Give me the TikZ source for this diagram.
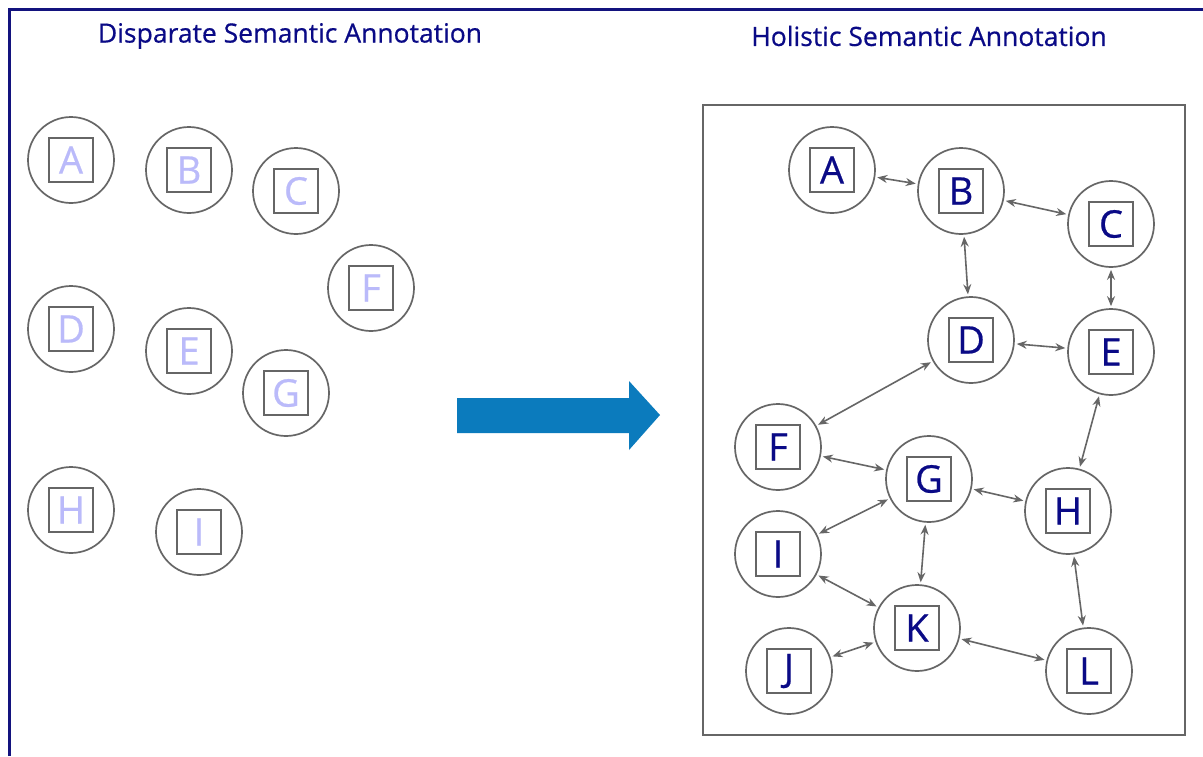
\documentclass[tikz,border=0pt]{standalone}
\usepackage{fontspec}
\setmainfont{Open Sans}
\newfontfamily\mediumface{Open Sans}[FakeBold=0.6]
\usetikzlibrary{arrows.meta}
\definecolor{navyText}{HTML}{0A0A86}
\definecolor{paleText}{HTML}{BABAFA}
\definecolor{frameNavy}{HTML}{13137E}
\definecolor{lineGray}{HTML}{666666}
\definecolor{flowBlue}{HTML}{0B7BBD}

\begin{document}
\begin{tikzpicture}[x=1pt, y=-1pt,
    conc/.style={circle, draw=lineGray, line width=1.7pt, minimum size=86pt, inner sep=0pt,
        font=\mediumface\fontsize{38}{40}\selectfont,
        path picture={\draw[lineGray, line width=1.6pt]
            ([xshift=-22pt, yshift=-22pt]path picture bounding box.center) rectangle
            ([xshift=22pt, yshift=22pt]path picture bounding box.center);}},
    loose/.style={conc, text=paleText},
    linked/.style={conc, text=navyText},
    rel/.style={lineGray, line width=1.6pt, {Stealth[length=10pt,width=8pt]}-{Stealth[length=10pt,width=8pt]},
        shorten <=2pt, shorten >=2pt},
    heading/.style={text=navyText, font=\mediumface\fontsize{26.5}{28}\selectfont}]
                \useasboundingbox (0, 0) rectangle (1203, 756);
                \fill[white] (0, 0) rectangle (1203, 756);
                \draw[frameNavy, line width=3pt] (9, 756) -- (9, 9) -- (1203, 9);

                \node (tLeft) at (290, 36)[heading] {Disparate Semantic Annotation};
                \node (tRight) at (929, 36)[heading] {Holistic Semantic Annotation};

                % disparate side
                \node (lA) at (71, 160)[loose] {A};
                \node (lB) at (189, 170)[loose] {B};
                \node (lC) at (296, 191)[loose] {C};
                \node (lF) at (371, 288)[loose] {F};
                \node (lD) at (71, 329)[loose] {D};
                \node (lE) at (189, 351)[loose] {E};
                \node (lG) at (286, 393)[loose] {G};
                \node (lH) at (71, 510)[loose] {H};
                \node (lI) at (199, 532)[loose] {I};

                \fill[flowBlue] (457, 398) -- (629, 398) -- (629, 381) -- (660, 415)
                    -- (629, 450) -- (629, 433) -- (457, 433) -- cycle;

                % holistic side
                \draw[lineGray, line width=1.7pt] (703, 105) rectangle (1185, 735);
                \node (rA) at (832, 170)[linked] {A};
                \node (rB) at (961, 191)[linked] {B};
                \node (rC) at (1111, 224)[linked] {C};
                \node (rD) at (971, 340)[linked] {D};
                \node (rE) at (1111, 352)[linked] {E};
                \node (rF) at (778, 447)[linked] {F};
                \node (rG) at (929, 479)[linked] {G};
                \node (rH) at (1068, 511)[linked] {H};
                \node (rI) at (778, 554)[linked] {I};
                \node (rK) at (917, 628)[linked] {K};
                \node (rJ) at (789, 671)[linked] {J};
                \node (rL) at (1089, 671)[linked] {L};

                \draw[rel] (rA) -- (rB);
                \draw[rel] (rB) -- (rC);
                \draw[rel] (rB) -- (rD);
                \draw[rel] (rC) -- (rE);
                \draw[rel] (rD) -- (rE);
                \draw[rel] (rD) -- (rF);
                \draw[rel] (rE) -- (rH);
                \draw[rel] (rF) -- (rG);
                \draw[rel] (rG) -- (rI);
                \draw[rel] (rG) -- (rH);
                \draw[rel] (rG) -- (rK);
                \draw[rel] (rI) -- (rK);
                \draw[rel] (rJ) -- (rK);
                \draw[rel] (rK) -- (rL);
                \draw[rel] (rH) -- (rL);
            \end{tikzpicture}
\end{document}
